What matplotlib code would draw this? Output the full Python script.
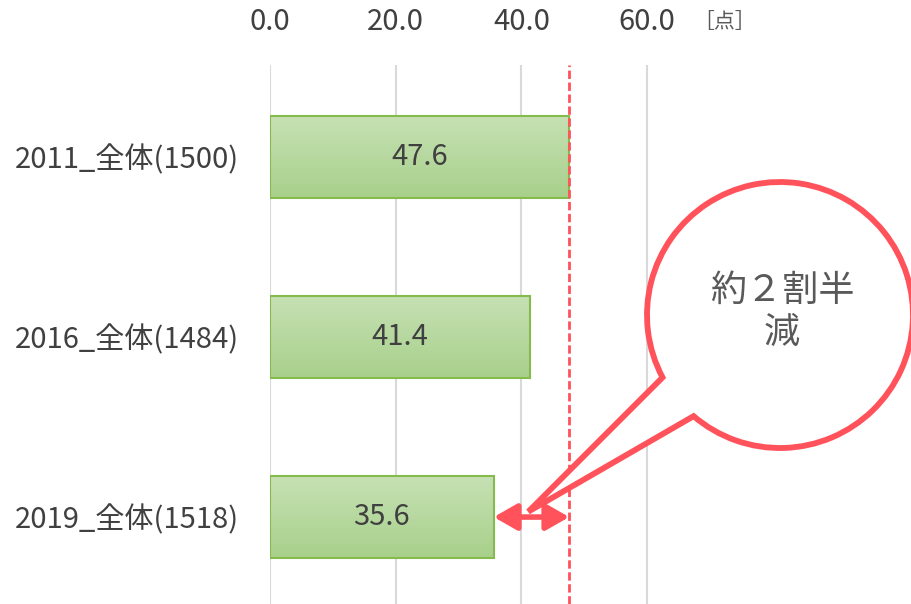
import numpy as np
import matplotlib
matplotlib.use('Agg')
import matplotlib.pyplot as plt
from matplotlib.path import Path
from matplotlib.patches import PathPatch, FancyArrowPatch

plt.rcParams['font.family'] = ['Noto Sans CJK JP', 'DejaVu Sans']

# Data
labels = ['2011_全体(1500)', '2016_全体(1484)', '2019_全体(1518)']
values = [47.6, 41.4, 35.6]
xticks = [0, 20, 40, 60]
unit = '［点］'
callout = '約２割半\n減'

red = '#FF525A'
txt = '#404040'

fig = plt.figure(figsize=(9.11, 6.04), dpi=100)
ax = fig.add_axes([270/911, 0, 440/911, 539/604])
ax.set_xlim(0, 70)
ax.set_ylim(2.483, -0.511)

# bars with a soft vertical gradient
h = 0.456
grad = np.linspace(0, 1, 64).reshape(-1, 1)
cmap = matplotlib.colors.LinearSegmentedColormap.from_list('g', ['#C6E1B4', '#A8D08B'])
bars = ax.barh(range(len(values)), values, height=h, color='none',
               edgecolor='#84BB4C', linewidth=1.5, zorder=3)
for i, b in enumerate(bars):
    im = ax.imshow(grad, cmap=cmap, aspect='auto', zorder=2,
                   extent=[0, values[i], i + h/2, i - h/2])
    im.set_clip_path(b)
    ax.text(values[i]/2, i, f'{values[i]:.1f}', ha='center', va='center',
            fontsize=21, color=txt, zorder=5)
ax.set_xlim(0, 70)
ax.set_ylim(2.483, -0.511)

# axes styling
ax.xaxis.tick_top()
ax.set_xticks(xticks)
ax.set_xticklabels([f'{v:.1f}' for v in xticks], fontsize=21, color=txt)
ax.set_yticks(range(len(labels)))
ax.set_yticklabels(labels, fontsize=21, color=txt)
ax.tick_params(length=0, axis='x', pad=20)
ax.tick_params(length=0, axis='y', pad=22)
for s in ax.spines.values():
    s.set_visible(False)
ax.grid(axis='x', color='#D9D9D9', linewidth=1.5, zorder=0)
ax.set_axisbelow(True)

fig.text(725/911, 1 - 22/604, unit, ha='center', va='center', fontsize=15, color='#595959')

# reference line at 2011 value
ax.axvline(values[0], color=red, linestyle=(0, (3, 1.3)), linewidth=2, zorder=4)

# double arrow between 2019 and 2011
arr = FancyArrowPatch((values[2], 2), (values[0], 2),
                      arrowstyle='<|-|>,head_length=0.7,head_width=0.4',
                      mutation_scale=20, color=red, linewidth=4, zorder=6,
                      shrinkA=0, shrinkB=0)
ax.add_patch(arr)

# speech bubble
cx, cy, r = 7.80, 6.04 - 3.15, 1.33
a1, a2 = 208.0, 229.5
tip = ax.transData.transform(((values[2] + values[0]) / 2 - 0.5, 1.97)) / fig.dpi
arc = Path.arc(a2, a1 + 360)
verts = np.vstack([arc.vertices * r + [cx, cy], tip, [0, 0]])
codes = list(arc.codes) + [Path.LINETO, Path.CLOSEPOLY]
bubble = PathPatch(Path(verts, codes), facecolor='white', edgecolor=red,
                   linewidth=4.2, transform=fig.dpi_scale_trans, zorder=7)
fig.add_artist(bubble)
fig.text(782/911, 1 - 312/604, callout, ha='center', va='center', fontsize=26,
         color='#595959', linespacing=1.2, zorder=8)

fig.savefig('out.png', dpi=100)
